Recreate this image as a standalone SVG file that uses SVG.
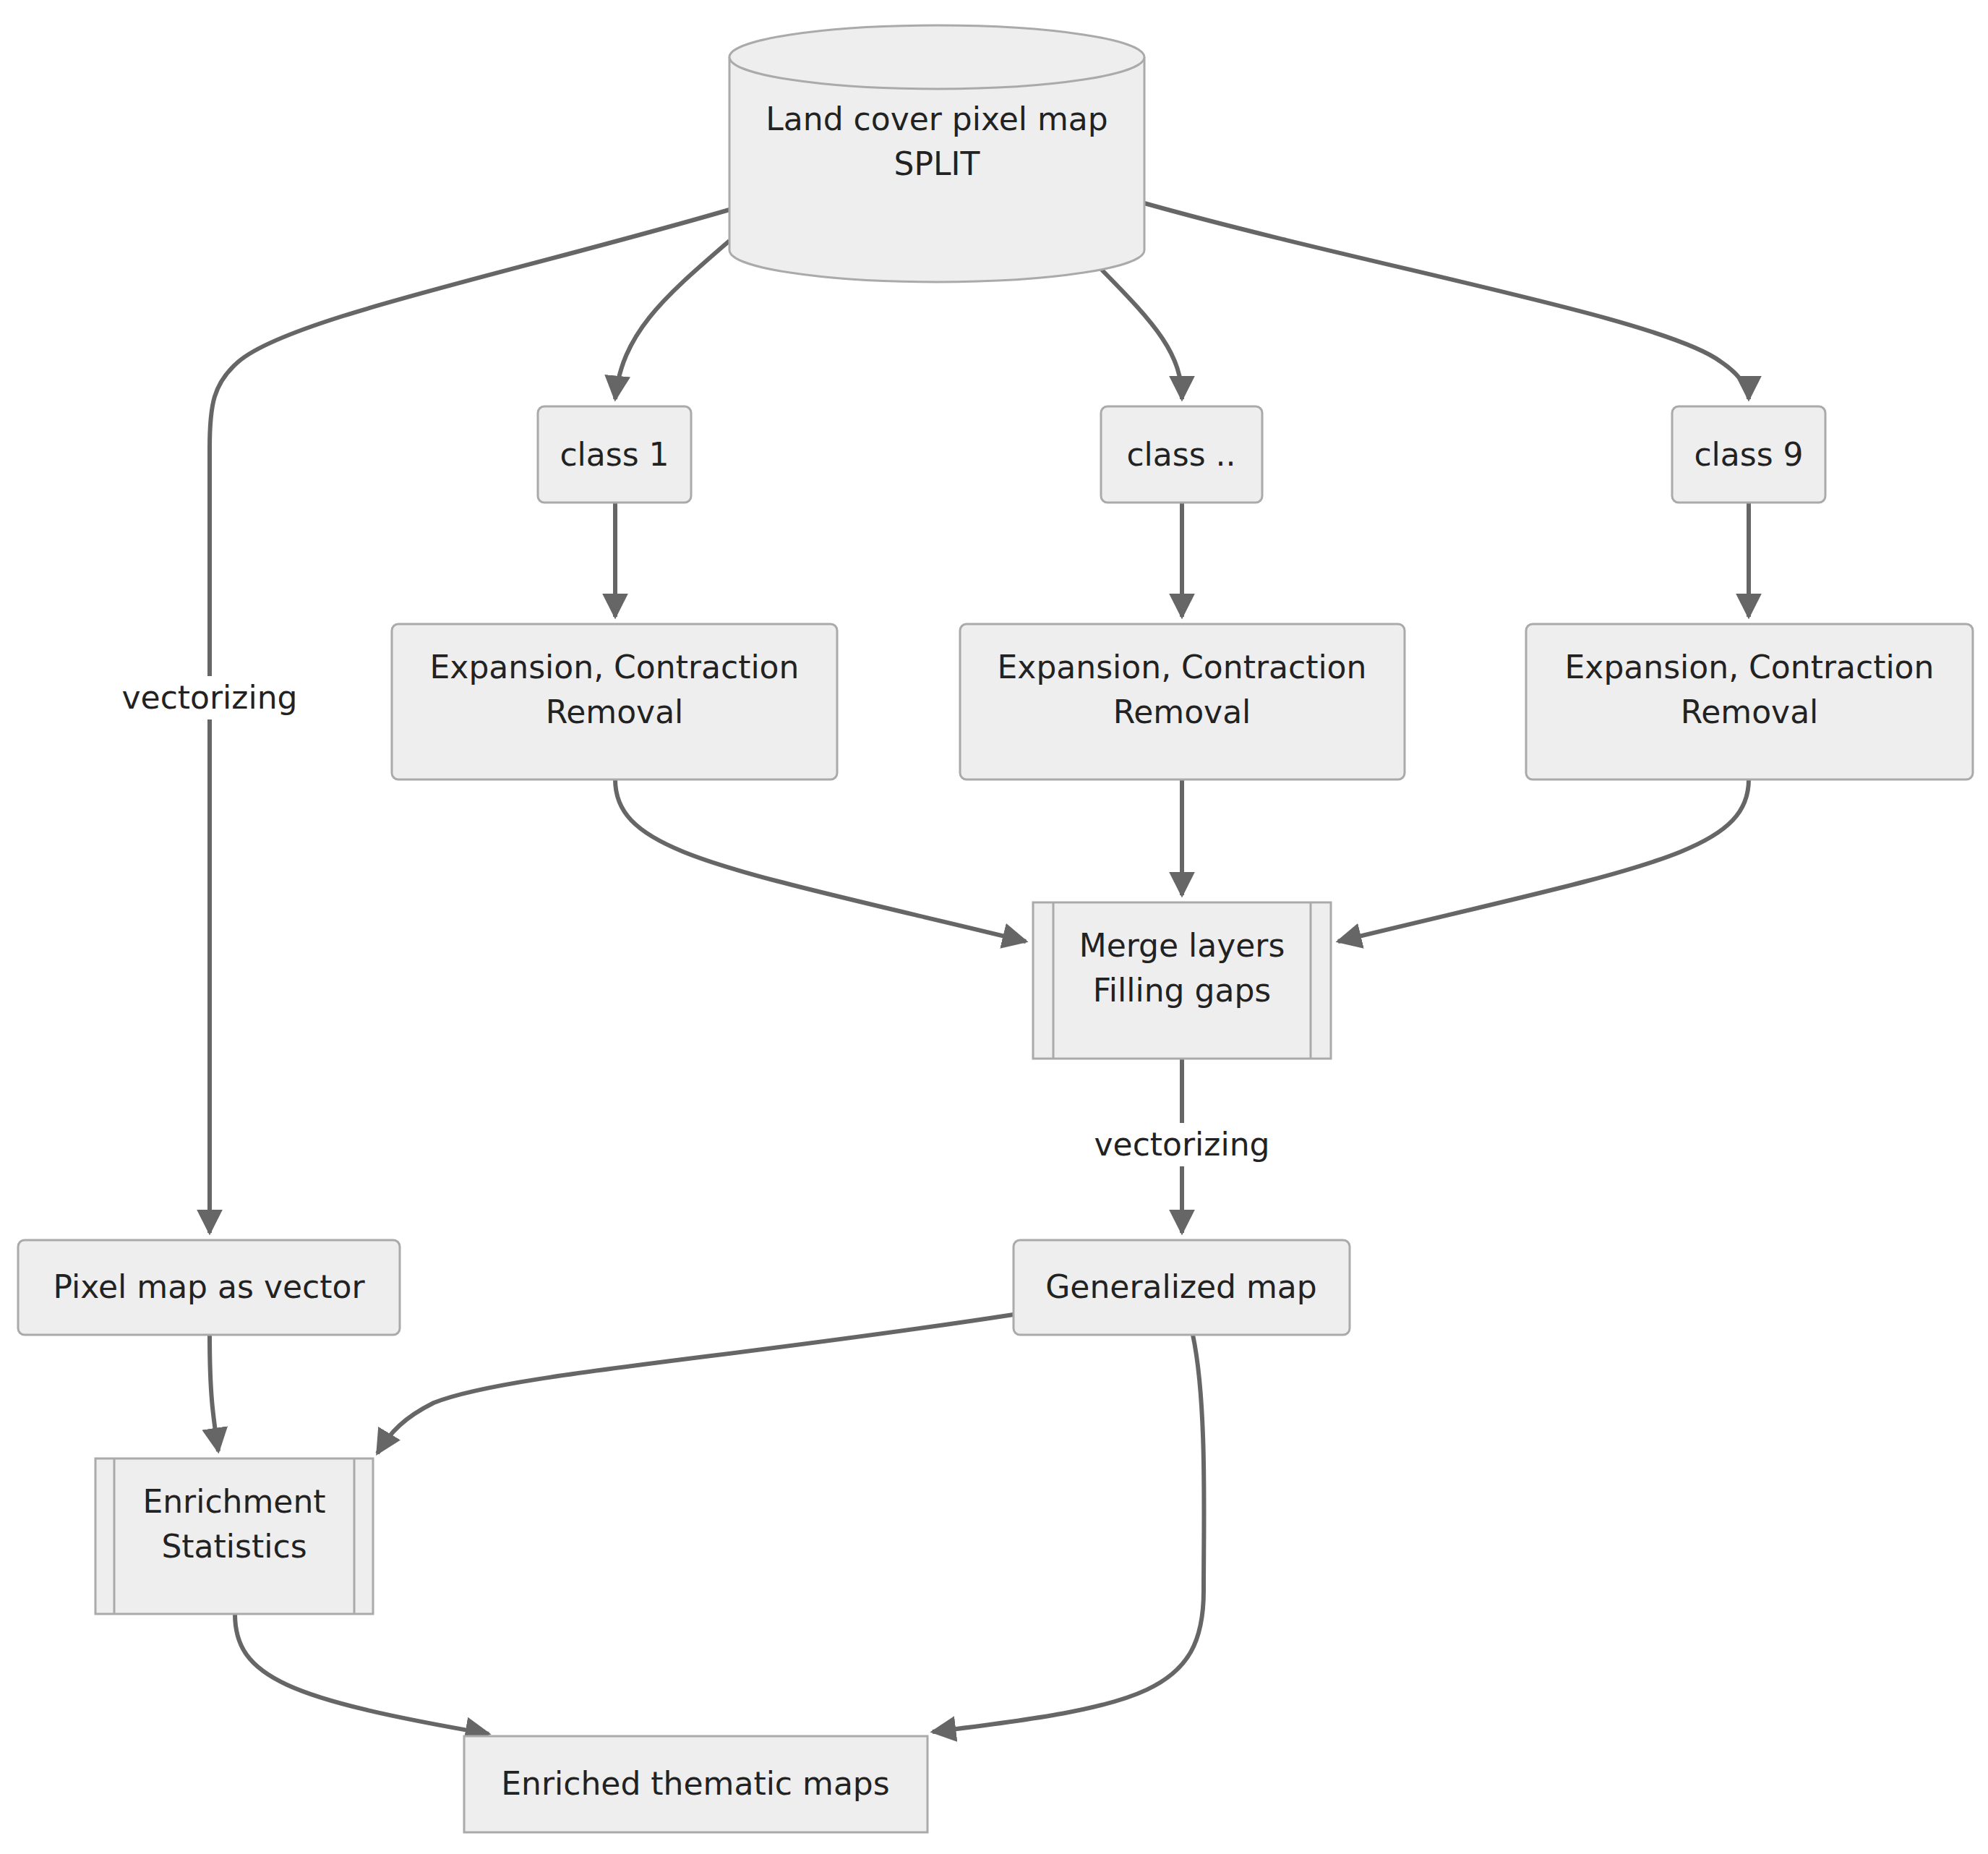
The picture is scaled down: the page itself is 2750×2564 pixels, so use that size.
<svg xmlns="http://www.w3.org/2000/svg" width="2750" height="2564" viewBox="0 0 2750 2564">
<style>
.n{fill:#eeeeee;stroke:#aaaaaa;stroke-width:3}
.t{font-family:"DejaVu Sans",sans-serif;font-size:44px;fill:#222;text-anchor:middle}
.e{fill:none;stroke:#666;stroke-width:6}
.lb{fill:#ffffff}
</style>
<defs>
<marker id="a" viewBox="0 0 10 10" refX="9" refY="5" markerWidth="6" markerHeight="6" markerUnits="strokeWidth" orient="auto"><path d="M0,0L10,5L0,10z" fill="#666"/></marker>
</defs>
<rect width="2750" height="2564" fill="#fff"/>
<g id="edges">
<path class="e" d="M1009,290 C700,380 400,440 330,500 C295,530 290,560 290,620 L290,1705" marker-end="url(#a)"/>
<path class="e" d="M1009,333 C920,410 860,460 851,552" marker-end="url(#a)"/>
<path class="e" d="M1523,372 C1600,450 1635,490 1635,552" marker-end="url(#a)"/>
<path class="e" d="M1583,281 C1900,370 2300,440 2380,500 C2410,520 2419,540 2419,552" marker-end="url(#a)"/>
<path class="e" d="M851,695 L851,853" marker-end="url(#a)"/>
<path class="e" d="M1635,695 L1635,853" marker-end="url(#a)"/>
<path class="e" d="M2419,695 L2419,853" marker-end="url(#a)"/>
<path class="e" d="M851,1078 C851,1180 1000,1200 1419,1302" marker-end="url(#a)"/>
<path class="e" d="M1635,1078 L1635,1238" marker-end="url(#a)"/>
<path class="e" d="M2419,1078 C2419,1180 2270,1200 1851,1302" marker-end="url(#a)"/>
<path class="e" d="M1635,1464 L1635,1705" marker-end="url(#a)"/>
<path class="e" d="M290,1846 C290,1930 295,1960 302,2007" marker-end="url(#a)"/>
<path class="e" d="M1402,1818 C1000,1880 700,1900 600,1940 C560,1960 540,1980 522,2010" marker-end="url(#a)"/>
<path class="e" d="M1650,1846 C1670,1940 1665,2100 1665,2200 C1665,2340 1580,2360 1290,2395" marker-end="url(#a)"/>
<path class="e" d="M325,2232 C325,2320 400,2350 676,2398" marker-end="url(#a)"/>
<rect class="lb" x="150" y="935" width="280" height="60"/>
<text class="t" x="290" y="980">vectorizing</text>
<rect class="lb" x="1495" y="1553" width="280" height="60"/>
<text class="t" x="1635" y="1598">vectorizing</text>
</g>
<g id="land">
<path class="n" d="M1009,79 A287,44 0 0 1 1583,79 L1583,346 A287,44 0 0 1 1009,346 Z"/>
<path class="n" d="M1009,79 A287,44 0 0 0 1583,79" fill="none"/>
<text class="t" x="1296" y="180">Land cover pixel map</text>
<text class="t" x="1296" y="242">SPLIT</text>
</g>
<g id="c1"><rect class="n" x="744" y="562" width="212" height="133" rx="9"/><text class="t" x="850" y="644">class 1</text></g>
<g id="c2"><rect class="n" x="1523" y="562" width="223" height="133" rx="9"/><text class="t" x="1634" y="644">class ..</text></g>
<g id="c9"><rect class="n" x="2313" y="562" width="212" height="133" rx="9"/><text class="t" x="2419" y="644">class 9</text></g>
<g id="x1"><rect class="n" x="542" y="863" width="616" height="215" rx="9"/><text class="t" x="850" y="938">Expansion, Contraction</text><text class="t" x="850" y="1000">Removal</text></g>
<g id="x2"><rect class="n" x="1328" y="863" width="615" height="215" rx="9"/><text class="t" x="1635" y="938">Expansion, Contraction</text><text class="t" x="1635" y="1000">Removal</text></g>
<g id="x3"><rect class="n" x="2111" y="863" width="618" height="215" rx="9"/><text class="t" x="2420" y="938">Expansion, Contraction</text><text class="t" x="2420" y="1000">Removal</text></g>
<g id="merge"><rect class="n" x="1429" y="1248" width="412" height="216"/><line class="n" x1="1457" y1="1248" x2="1457" y2="1464"/><line class="n" x1="1813" y1="1248" x2="1813" y2="1464"/><text class="t" x="1635" y="1323">Merge layers</text><text class="t" x="1635" y="1385">Filling gaps</text></g>
<g id="gen"><rect class="n" x="1402" y="1715" width="465" height="131" rx="9"/><text class="t" x="1634" y="1795">Generalized map</text></g>
<g id="pix"><rect class="n" x="25" y="1715" width="528" height="131" rx="9"/><text class="t" x="289" y="1795">Pixel map as vector</text></g>
<g id="enr"><rect class="n" x="132" y="2017" width="384" height="215"/><line class="n" x1="158" y1="2017" x2="158" y2="2232"/><line class="n" x1="490" y1="2017" x2="490" y2="2232"/><text class="t" x="324" y="2092">Enrichment</text><text class="t" x="324" y="2154">Statistics</text></g>
<g id="them"><rect class="n" x="642" y="2401" width="641" height="133"/><text class="t" x="962" y="2482">Enriched thematic maps</text></g>
</svg>
